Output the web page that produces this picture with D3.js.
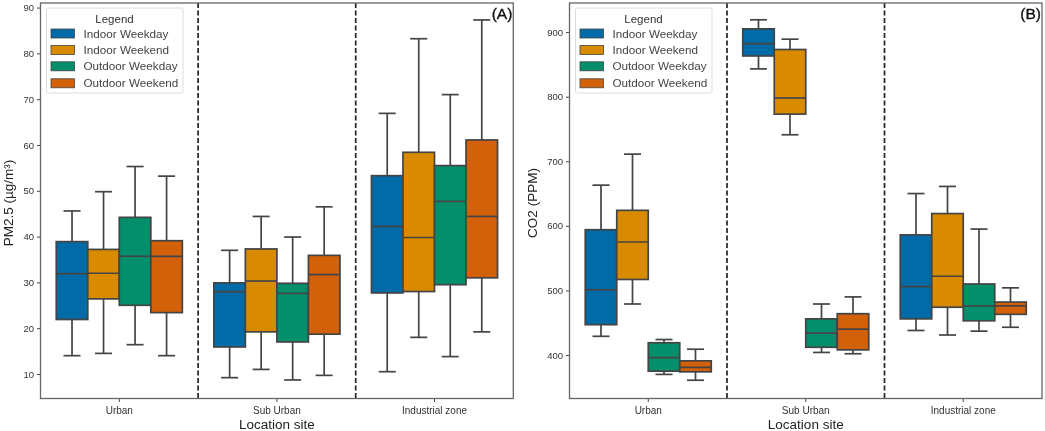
<!DOCTYPE html>
<html><head><meta charset="utf-8">
<script src="https://cdn.jsdelivr.net/npm/d3@7/dist/d3.min.js"></script>
<style>html,body{margin:0;padding:0;background:#fff}svg{display:block;filter:blur(0.35px)}text{font-family:"Liberation Sans",Arial,sans-serif}</style>
</head><body><svg id="c" width="1045" height="431"></svg>
<script>
const sites=["Urban","Sub Urban","Industrial zone"];
const groups=["Indoor Weekday","Indoor Weekend","Outdoor Weekday","Outdoor Weekend"];
const colors=["#006ba6","#d98b00","#038f6b","#d2610a"];
// each row: [low whisker, Q1, median, Q3, high whisker] per group
const pmUrban=[[14,21.9,31.9,38.9,45.6],[14.5,26.4,32,37.2,49.8],[16.4,25,35.7,44.2,55.3],[14,23.4,35.7,39.1,53.2]];
const pmSub=[[9.2,15.9,28,29.9,37],[11,19.2,30.3,37.3,44.4],[8.7,17,27.6,29.8,39.9],[9.7,18.7,31.7,35.9,46.5]];
const pmInd=[[10.5,27.7,42.2,53.3,66.9],[18,28,39.8,58.4,83.2],[13.8,29.5,47.7,55.5,71],[19.2,31,44.4,61.1,87.3]];
const coUrban=[[429,447,501,594,663],[479,517,575,624,711],[370,375,396,419,424],[361,374,381,391,409]];
const coSub=[[843,863,882,905,919],[741,773,798,873,889],[404,412,434,456,479],[402,408,440,464,490]];
const coInd=[[438,456,506,586,650],[431,474,522,619,661],[437,453,476,510,595],[443,463,476,482,504]];
const pmTicks=[10,20,30,40,50,60,70,80,90];
const coTicks=[400,500,600,700,800,900];
const svg=d3.select("#c");
const ink="#444";
function panel(o){
  const x=d3.scaleBand().domain(sites).range([o.l,o.r]);
  const y=d3.scaleLinear().domain(o.dom).range([398.5,3]);
  const g=svg.append("g");
  const boxW=x.bandwidth()*0.2;
  const off=i=>x.bandwidth()/2+(i-1.5)*boxW;
  o.data.forEach((rows,si)=>rows.forEach((d,gi)=>{
    const cx=x(sites[si])+off(gi);
    const b=g.append("g").attr("stroke",ink).attr("stroke-width",1.7);
    b.append("line").attr("x1",cx).attr("x2",cx).attr("y1",y(d[0])).attr("y2",y(d[1]));
    b.append("line").attr("x1",cx).attr("x2",cx).attr("y1",y(d[3])).attr("y2",y(d[4]));
    [d[0],d[4]].forEach(v=>b.append("line").attr("x1",cx-boxW*0.27).attr("x2",cx+boxW*0.27).attr("y1",y(v)).attr("y2",y(v)));
    b.append("rect").attr("x",cx-boxW/2).attr("width",boxW).attr("y",y(d[3])).attr("height",y(d[1])-y(d[3])).attr("fill",colors[gi]);
    b.append("line").attr("x1",cx-boxW/2).attr("x2",cx+boxW/2).attr("y1",y(d[2])).attr("y2",y(d[2]));
  }));
  sites.slice(1).forEach(s=>g.append("line").attr("x1",x(s)).attr("x2",x(s)).attr("y1",3).attr("y2",398.5)
    .attr("stroke","#222").attr("stroke-width",1.7).attr("stroke-dasharray","5 2.5"));
  const ax=g.append("g").attr("transform","translate(0,398.5)").call(d3.axisBottom(x).tickSize(3.5).tickPadding(5));
  const ay=g.append("g").attr("transform",`translate(${o.l},0)`).call(d3.axisLeft(y).tickValues(o.ticks).tickSize(3.5).tickPadding(3));
  [ax,ay].forEach(a=>{a.select(".domain").remove();a.selectAll("line").attr("stroke",ink).attr("stroke-width",1);a.selectAll("text").attr("fill","#333");});
  ax.selectAll("text").attr("font-size",10);
  ay.selectAll("text").attr("font-size",9.5);
  g.append("rect").attr("x",o.l).attr("y",3).attr("width",o.r-o.l).attr("height",395.5).attr("fill","none").attr("stroke","#666").attr("stroke-width",1.3);
  g.append("text").attr("x",(o.l+o.r)/2).attr("y",428.5).attr("text-anchor","middle").attr("font-size",13.5).attr("fill","#222").text("Location site");
  g.append("text").attr("transform",`translate(${o.yx},${o.yc}) rotate(-90)`).attr("text-anchor","middle").attr("font-size",13.5).attr("fill","#222").text(o.yl);
  g.append("text").attr("x",o.r-1).attr("y",19).attr("text-anchor","end").attr("font-size",15.5).attr("fill","#111").attr("stroke","#111").attr("stroke-width",0.35).text(o.tag);
  const lg=g.append("g").attr("transform",`translate(${o.l+6},8)`);
  lg.append("rect").attr("width",136.5).attr("height",85).attr("rx",2).attr("fill","#fff").attr("stroke","#ddd").attr("stroke-width",1);
  lg.append("text").attr("x",68).attr("y",14.5).attr("text-anchor","middle").attr("font-size",11.5).attr("fill","#333").text("Legend");
  groups.forEach((n,i)=>{
    const yy=[25.5,42,58.3,75.3][i];
    lg.append("rect").attr("x",4.5).attr("y",yy-4.5).attr("width",23.5).attr("height",9).attr("fill",colors[i]).attr("stroke",ink).attr("stroke-width",.8);
    lg.append("text").attr("x",37).attr("y",yy+4).attr("font-size",11.7).attr("fill","#444").text(n);
  });
}
panel({l:40.5,r:513.3,dom:[4.65,91],ticks:pmTicks,data:[pmUrban,pmSub,pmInd],yl:"PM2.5 (µg/m³)",yx:13,yc:203,tag:"(A)"});
panel({l:569.5,r:1042,dom:[332.7,945],ticks:coTicks,data:[coUrban,coSub,coInd],yl:"CO2 (PPM)",yx:537,yc:203,tag:"(B)"});
</script></body></html>
